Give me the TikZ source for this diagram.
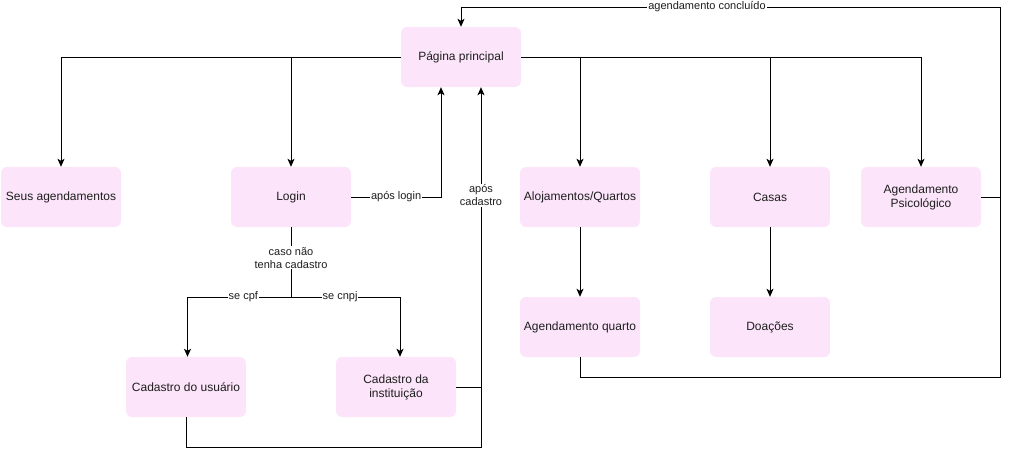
\documentclass[tikz,border=0pt]{standalone}
\usepackage{fontspec}
\setmainfont{Liberation Sans}
\usetikzlibrary{arrows.meta}
\definecolor{boxfill}{RGB}{252,229,250}
\definecolor{txt}{RGB}{30,30,30}
\begin{document}
\begin{tikzpicture}[x=1pt,y=-1pt,
 box/.style={fill=boxfill, rounded corners=6pt, minimum width=120pt, minimum height=60pt, inner sep=0pt, align=center, font=\fontsize{12}{14}\selectfont, text=txt},
 conn/.style={line width=1pt, draw=black},
 arr/.style={conn, -{Stealth[length=8pt,width=7pt,inset=2pt]}},
 lbl/.style={fill=white, inner sep=1pt, font=\fontsize{11}{13}\selectfont, align=center, text=txt}
]
\useasboundingbox (0,0) rectangle (1009,456);
\node[box] (pp) at (461,57) {Página principal};
\node[box] (seus) at (61,197) {Seus agendamentos};
\node[box] (login) at (291,197) {Login};
\node[box] (aloj) at (580,197) {Alojamentos/Quartos};
\node[box] (casas) at (770,197) {Casas};
\node[box] (psi) at (921,197) {Agendamento\\Psicológico};
\node[box] (aq) at (580,327) {Agendamento quarto};
\node[box] (doa) at (770,327) {Doações};
\node[box] (cu) at (186,387) {Cadastro do usuário};
\node[box] (ci) at (396,387) {Cadastro da\\instituição};

\coordinate (split) at (291,297);
\coordinate (jc) at (481,387);
\coordinate (jb) at (481,447);
\coordinate (rb) at (1000,377);
\coordinate (rp) at (1000,197);
\coordinate (rt) at (1000,7);

\draw[arr] (pp.west) -| (seus.north);
\draw[arr] (pp.west) -| (login.north);
\draw[arr] (pp.east) -| (aloj.north);
\draw[arr] (pp.east) -| (casas.north);
\draw[arr] (pp.east) -| (psi.north);
\draw[arr] (aloj) -- (aq);
\draw[arr] (casas) -- (doa);

\draw[arr] (login.east) -| ([xshift=-20pt]pp.south) node[lbl, pos=0.25] {após login};
\draw[arr] (ci.east) -| ([xshift=20pt]pp.south) node[lbl, pos=0.82] {após\\cadastro};
\draw[conn] (cu.south) |- (jb) -- (jc);

\draw[conn] (login.south) -- (split) node[lbl, pos=0.44] {caso não\\tenha cadastro};
\draw[arr] (split) -| ([xshift=1.5pt]cu.north) node[lbl, pos=0.23] {se cpf};
\draw[arr] (split) -| ([xshift=4pt]ci.north) node[lbl, pos=0.225] {se cnpj};

\draw[conn] (psi.east) -- (rp);
\draw[arr] (aq.south) |- (rb) -- (rt) -| (pp.north);
\node[lbl] (lc) at (707,7) {agendamento concluído};
\end{tikzpicture}
\end{document}
